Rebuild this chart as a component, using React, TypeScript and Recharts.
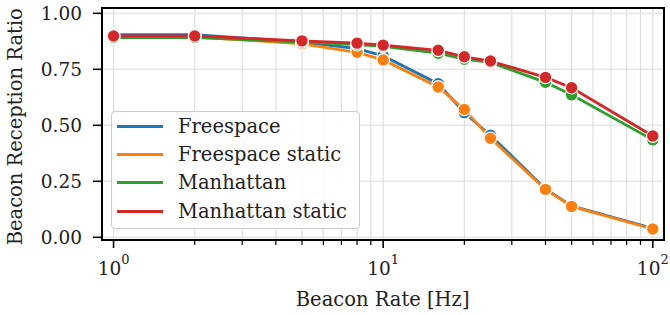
import { LineChart, Line, XAxis, YAxis, CartesianGrid } from 'recharts'

const rates = [1, 2, 5, 8, 10, 16, 20, 25, 40, 50, 100]
const freespace = [0.905, 0.905, 0.872, 0.842, 0.81, 0.686, 0.556, 0.456, 0.216, 0.14, 0.04]
const freespaceStatic = [0.895, 0.895, 0.864, 0.826, 0.792, 0.671, 0.571, 0.442, 0.214, 0.138, 0.037]
const manhattan = [0.892, 0.892, 0.872, 0.86, 0.852, 0.822, 0.795, 0.781, 0.692, 0.636, 0.435]
const manhattanStatic = [0.899, 0.899, 0.877, 0.867, 0.858, 0.835, 0.806, 0.787, 0.714, 0.668, 0.452]

const xTicks = [1, 2, 3, 4, 5, 6, 7, 8, 9, 10, 20, 30, 40, 50, 60, 70, 80, 90, 100]
const xMajor = [1, 10, 100]
const yTicks = [0, 0.25, 0.5, 0.75, 1.0]
const xDomain = [0.906, 109.4]
const yDomain = [-0.012, 1.026]

const series = [
  { key: 'freespace', name: 'Freespace', color: '#1f77b4' },
  { key: 'freespaceStatic', name: 'Freespace static', color: '#ff7f0e' },
  { key: 'manhattan', name: 'Manhattan', color: '#2ca02c' },
  { key: 'manhattanStatic', name: 'Manhattan static', color: '#d62728' },
]

const data = rates.map((r, i) => ({
  rate: r,
  freespace: freespace[i],
  freespaceStatic: freespaceStatic[i],
  manhattan: manhattan[i],
  manhattanStatic: manhattanStatic[i],
}))

const FONT = '"DejaVu Serif", serif'

function XTick({ x, y, payload }: any) {
  const v = payload.value
  const major = xMajor.includes(v)
  return (
    <g>
      <line x1={x} x2={x} y1={y} y2={y + (major ? 8 : 5)} stroke="#000" strokeWidth={major ? 1.6 : 1.2} />
      {major && (
        <text x={x} y={y + 35} textAnchor="middle" fontFamily={FONT} fontSize={18.5} fill="#222">
          10<tspan dy={-11} fontSize={13}>{Math.round(Math.log10(v))}</tspan>
        </text>
      )}
    </g>
  )
}

function YTick({ x, y, payload }: any) {
  return (
    <g>
      <line x1={x - 9} x2={x} y1={y} y2={y} stroke="#000" strokeWidth={1.6} />
      <text x={x - 20} y={y} dy="0.36em" textAnchor="end" fontFamily={FONT} fontSize={18.5} fill="#222">
        {payload.value.toFixed(2)}
      </text>
    </g>
  )
}

function YLabel({ viewBox }: any) {
  const cy = viewBox.y + viewBox.height / 2 + 3
  return (
    <text x={15} y={cy} transform={`rotate(-90, 15, ${cy})`} textAnchor="middle" dominantBaseline="central"
      fontFamily={FONT} fontSize={19.5} fill="#222">
      Beacon Reception Ratio
    </text>
  )
}

function XLabel({ viewBox }: any) {
  return (
    <text x={viewBox.x + viewBox.width / 2} y={306} textAnchor="middle" fontFamily={FONT} fontSize={19.5} fill="#222">
      Beacon Rate [Hz]
    </text>
  )
}

export default function App() {
  return (
    <div style={{ position: 'absolute', left: 0, top: 0, width: 670, height: 315, background: '#fff' }}>
      <LineChart width={670} height={315} data={data} margin={{ top: 7.5, right: 6.7, bottom: 0, left: 0 }}>
        <CartesianGrid stroke="#dcdcdc" strokeWidth={1.1} />
        <XAxis dataKey="rate" type="number" scale="log" domain={xDomain} allowDataOverflow
          ticks={xTicks} interval={0} height={75} tickSize={0} tickMargin={0} tickLine={false}
          tick={<XTick />} axisLine={{ stroke: '#000', strokeWidth: 1.8 }} label={<XLabel />} />
        <YAxis type="number" domain={yDomain} allowDataOverflow ticks={yTicks} interval={0} width={102}
          tickSize={0} tickMargin={0} tickLine={false} tick={<YTick />}
          axisLine={{ stroke: '#000', strokeWidth: 1.8 }} label={<YLabel />} />
        {series.map(s => (
          <Line key={s.key} dataKey={s.key} name={s.name} stroke={s.color} strokeWidth={2.8}
            dot={{ r: 6.3, fill: s.color, stroke: '#fff', strokeWidth: 1.2 }} activeDot={false}
            isAnimationActive={false} />
        ))}
      </LineChart>
      {/* frame around the plot area */}
      <div style={{
        position: 'absolute', left: 101, top: 6.5, width: 563.5, height: 234.5, boxSizing: 'border-box',
        border: '2px solid #000', pointerEvents: 'none',
      }} />
      <div style={{
        position: 'absolute', left: 111, top: 111, width: 247, height: 116,
        border: '1px solid #cccccc', borderRadius: 4, background: 'rgba(255,255,255,0.9)',
        fontFamily: FONT, fontSize: 19.5, color: '#222',
      }}>
        {series.map((s, i) => (
          <div key={s.key} style={{ position: 'absolute', left: 5, top: 2 + i * 28.4, height: 24, display: 'flex', alignItems: 'center', whiteSpace: 'nowrap' }}>
            <span style={{ display: 'inline-block', width: 46, height: 3, background: s.color, marginRight: 15 }} />
            {s.name}
          </div>
        ))}
      </div>
    </div>
  )
}
